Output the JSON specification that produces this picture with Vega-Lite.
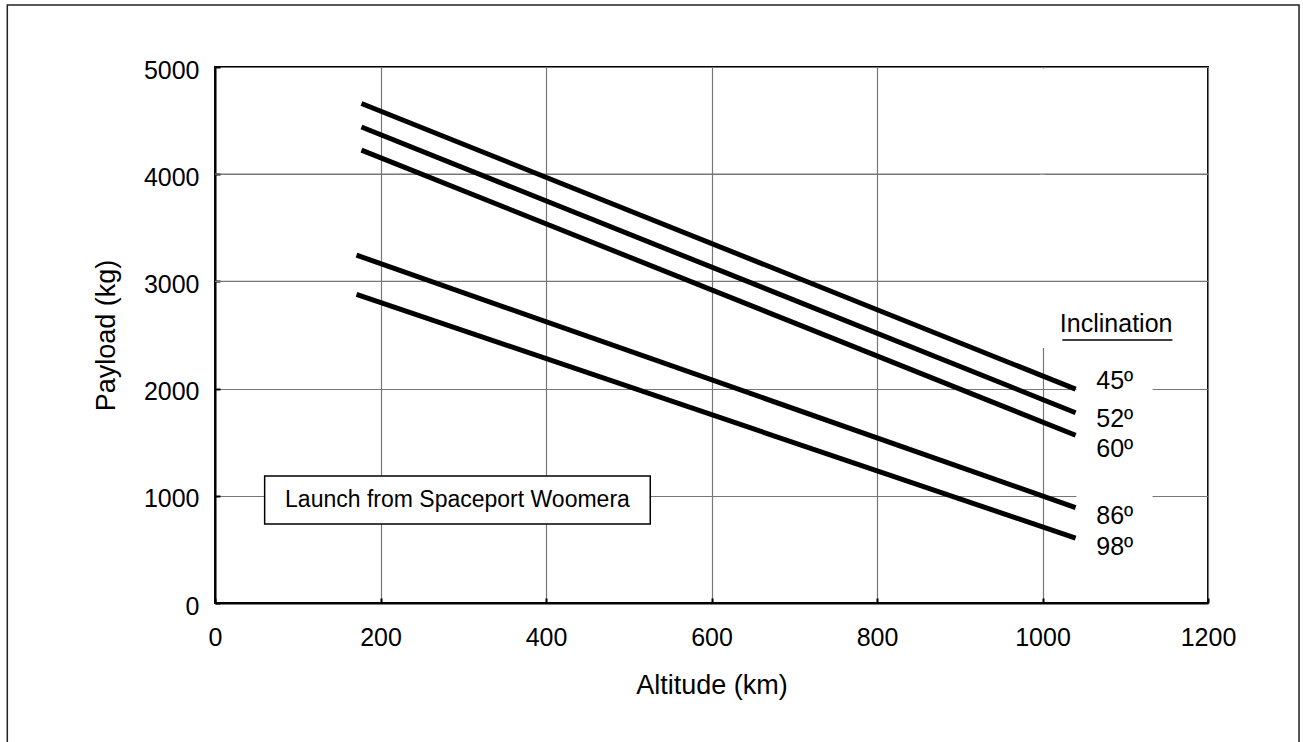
{
  "$schema": "https://vega.github.io/schema/vega-lite/v6.json",
  "width": 993,
  "height": 536,
  "autosize": {"type": "none"},
  "padding": {"left": 215, "top": 67, "right": 95, "bottom": 139},
  "background": "white",
  "config": {
    "font": "Liberation Sans",
    "view": {"stroke": "black", "strokeWidth": 2},
    "axis": {
      "grid": true,
      "gridColor": "#777777",
      "gridWidth": 1.2,
      "domainColor": "black",
      "domainWidth": 2,
      "tickColor": "black",
      "tickWidth": 2,
      "tickSize": -5,
      "labelFont": "Liberation Sans",
      "labelFontSize": 25,
      "labelColor": "black",
      "titleFont": "Liberation Sans",
      "titleFontSize": 27,
      "titleFontWeight": "normal",
      "titleColor": "black",
      "labelFlush": false,
      "format": "d"
    },
    "axisX": {"labelPadding": 27, "titlePadding": 22},
    "axisY": {"labelPadding": 21, "titlePadding": 23, "labelOffset": 3}
  },
  "datasets": {
    "curves": [
      {"inclination": "45º", "altitude": 177, "payload": 4660},
      {"inclination": "45º", "altitude": 1040, "payload": 1995},
      {"inclination": "52º", "altitude": 177, "payload": 4440},
      {"inclination": "52º", "altitude": 1040, "payload": 1775},
      {"inclination": "60º", "altitude": 177, "payload": 4225},
      {"inclination": "60º", "altitude": 1040, "payload": 1565},
      {"inclination": "86º", "altitude": 171, "payload": 3245},
      {"inclination": "86º", "altitude": 1040, "payload": 890},
      {"inclination": "98º", "altitude": 171, "payload": 2880},
      {"inclination": "98º", "altitude": 1040, "payload": 605}
    ],
    "labels": [
      {"label": "45º", "altitude": 1065, "payload": 2070},
      {"label": "52º", "altitude": 1065, "payload": 1716},
      {"label": "60º", "altitude": 1065, "payload": 1432},
      {"label": "86º", "altitude": 1065, "payload": 807},
      {"label": "98º", "altitude": 1065, "payload": 518}
    ],
    "hgrid": [{"g": 3000}, {"g": 4000}]
  },
  "layer": [
    {
      "data": {"values": [{}]},
      "mark": {"type": "rect", "filled": false, "stroke": "#222222", "strokeWidth": 1.5, "clip": false},
      "encoding": {
        "x": {"datum": -251, "type": "quantitative", "scale": {"domain": [0, 1200], "nice": false}, "axis": {"title": "Altitude (km)", "values": [0, 200, 400, 600, 800, 1000, 1200]}},
        "x2": {"datum": 1310},
        "y": {"datum": 5578, "type": "quantitative", "scale": {"domain": [0, 5000], "nice": false}, "axis": {"title": "Payload (kg)", "values": [0, 1000, 2000, 3000, 4000, 5000]}},
        "y2": {"datum": -1500}
      }
    },
    {
      "data": {"values": [{}]},
      "mark": {"type": "rect", "fill": "white"},
      "encoding": {
        "x": {"datum": 997, "type": "quantitative", "scale": {"domain": [0, 1200], "nice": false}, "axis": {"title": "Altitude (km)", "values": [0, 200, 400, 600, 800, 1000, 1200]}},
        "x2": {"datum": 1003},
        "y": {"datum": 2379, "type": "quantitative", "scale": {"domain": [0, 5000], "nice": false}, "axis": {"title": "Payload (kg)", "values": [0, 1000, 2000, 3000, 4000, 5000]}},
        "y2": {"datum": 4985}
      }
    },
    {
      "data": {"name": "hgrid"},
      "mark": {"type": "rule", "color": "#777777", "strokeWidth": 1.2},
      "encoding": {
        "y": {"field": "g", "type": "quantitative", "scale": {"domain": [0, 5000], "nice": false}, "axis": {"title": "Payload (kg)", "values": [0, 1000, 2000, 3000, 4000, 5000]}}
      }
    },
    {
      "data": {"values": [{}]},
      "mark": {"type": "rect", "fill": "white"},
      "encoding": {
        "x": {"datum": 1041, "type": "quantitative", "scale": {"domain": [0, 1200], "nice": false}, "axis": {"title": "Altitude (km)", "values": [0, 200, 400, 600, 800, 1000, 1200]}},
        "x2": {"datum": 1133},
        "y": {"datum": 350, "type": "quantitative", "scale": {"domain": [0, 5000], "nice": false}, "axis": {"title": "Payload (kg)", "values": [0, 1000, 2000, 3000, 4000, 5000]}},
        "y2": {"datum": 2270}
      }
    },
    {
      "data": {"name": "curves"},
      "mark": {"type": "line", "color": "black", "strokeWidth": 5, "strokeCap": "butt"},
      "encoding": {
        "x": {"field": "altitude", "type": "quantitative", "scale": {"domain": [0, 1200], "nice": false}, "axis": {"title": "Altitude (km)", "values": [0, 200, 400, 600, 800, 1000, 1200]}},
        "y": {"field": "payload", "type": "quantitative", "scale": {"domain": [0, 5000], "nice": false}, "axis": {"title": "Payload (kg)", "values": [0, 1000, 2000, 3000, 4000, 5000]}},
        "detail": {"field": "inclination"}
      }
    },
    {
      "data": {"name": "labels"},
      "mark": {"type": "text", "align": "left", "baseline": "middle", "fontSize": 25, "color": "black"},
      "encoding": {
        "x": {"field": "altitude", "type": "quantitative", "scale": {"domain": [0, 1200], "nice": false}, "axis": {"title": "Altitude (km)", "values": [0, 200, 400, 600, 800, 1000, 1200]}},
        "y": {"field": "payload", "type": "quantitative", "scale": {"domain": [0, 5000], "nice": false}, "axis": {"title": "Payload (kg)", "values": [0, 1000, 2000, 3000, 4000, 5000]}},
        "text": {"field": "label"}
      }
    },
    {
      "data": {"values": [{"t": "Inclination"}]},
      "mark": {"type": "text", "align": "center", "baseline": "middle", "fontSize": 25, "color": "black"},
      "encoding": {
        "x": {"datum": 1089, "type": "quantitative", "scale": {"domain": [0, 1200], "nice": false}, "axis": {"title": "Altitude (km)", "values": [0, 200, 400, 600, 800, 1000, 1200]}},
        "y": {"datum": 2603, "type": "quantitative", "scale": {"domain": [0, 5000], "nice": false}, "axis": {"title": "Payload (kg)", "values": [0, 1000, 2000, 3000, 4000, 5000]}},
        "text": {"field": "t"}
      }
    },
    {
      "data": {"values": [{}]},
      "mark": {"type": "rule", "color": "black", "strokeWidth": 1.5},
      "encoding": {
        "x": {"datum": 1024, "type": "quantitative", "scale": {"domain": [0, 1200], "nice": false}, "axis": {"title": "Altitude (km)", "values": [0, 200, 400, 600, 800, 1000, 1200]}},
        "x2": {"datum": 1157},
        "y": {"datum": 2453, "type": "quantitative", "scale": {"domain": [0, 5000], "nice": false}, "axis": {"title": "Payload (kg)", "values": [0, 1000, 2000, 3000, 4000, 5000]}}
      }
    },
    {
      "data": {"values": [{}]},
      "mark": {"type": "rect", "fill": "white", "stroke": "black", "strokeWidth": 1.5},
      "encoding": {
        "x": {"datum": 60, "type": "quantitative", "scale": {"domain": [0, 1200], "nice": false}, "axis": {"title": "Altitude (km)", "values": [0, 200, 400, 600, 800, 1000, 1200]}},
        "x2": {"datum": 526},
        "y": {"datum": 1185, "type": "quantitative", "scale": {"domain": [0, 5000], "nice": false}, "axis": {"title": "Payload (kg)", "values": [0, 1000, 2000, 3000, 4000, 5000]}},
        "y2": {"datum": 737}
      }
    },
    {
      "data": {"values": [{"t": "Launch from Spaceport Woomera"}]},
      "mark": {"type": "text", "align": "center", "baseline": "middle", "fontSize": 23, "color": "black"},
      "encoding": {
        "x": {"datum": 293, "type": "quantitative", "scale": {"domain": [0, 1200], "nice": false}, "axis": {"title": "Altitude (km)", "values": [0, 200, 400, 600, 800, 1000, 1200]}},
        "y": {"datum": 958, "type": "quantitative", "scale": {"domain": [0, 5000], "nice": false}, "axis": {"title": "Payload (kg)", "values": [0, 1000, 2000, 3000, 4000, 5000]}},
        "text": {"field": "t"}
      }
    }
  ]
}
